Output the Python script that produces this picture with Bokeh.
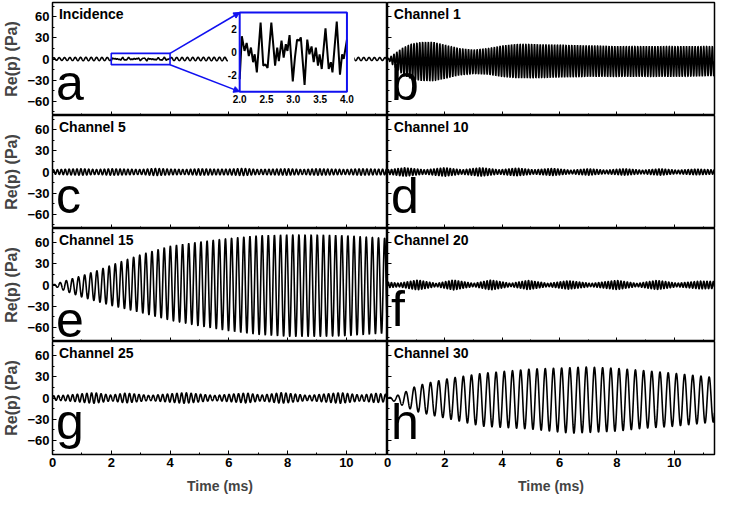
import numpy as np
from bokeh.plotting import figure
from bokeh.layouts import gridplot
from bokeh.models import Range1d, FixedTicker, Label, Arrow, NormalHead
from bokeh.core.properties import value
from bokeh.embed import file_html
from bokeh.resources import INLINE

# ---------------- data ----------------
t_end = 11.4
x_ticks = [0, 2, 4, 6, 8, 10]
x_minor = [1, 3, 5, 7, 9, 11]
y_ticks = [-60, -30, 0, 30, 60]
y_minor = [-75, -45, -15, 15, 45, 75]

panel_titles = ["Incidence", "Channel 1", "Channel 5", "Channel 10",
                "Channel 15", "Channel 20", "Channel 25", "Channel 30"]
panel_letters = ["a", "b", "c", "d", "e", "f", "g", "h"]

# Incidence: extremes (2-4 ms)
inc_t = [2.00, 2.04, 2.09, 2.13, 2.17, 2.21, 2.25, 2.28, 2.32, 2.39, 2.44, 2.48, 2.52,
         2.59, 2.66, 2.70, 2.73, 2.78, 2.82, 2.86, 2.89, 2.93, 2.99, 3.03, 3.07, 3.11,
         3.14, 3.21, 3.26, 3.30, 3.34, 3.38, 3.42, 3.46, 3.49, 3.53, 3.60, 3.66, 3.70,
         3.73, 3.81, 3.87, 3.91, 3.94, 4.00]
inc_p = [-2.4, 1.4, 0.1, 0.8, -0.35, 0.4, -0.9, -0.2, -1.8, 2.6, -1.2, -1.1, -1.4,
         2.6, -1.2, 0.4, -0.8, 1.0, -0.5, 0.7, 0.1, 1.5, -2.6, -0.5, 1.1, 1.0,
         1.3, -2.9, 1.1, -0.2, 0.5, -0.9, 0.4, -1.2, -0.2, -1.5, 2.1, -1.5, -0.9,
         -1.8, 2.7, -2.0, -0.2, -0.6, 1.1]
inc_freq = 5.5
inc_env_t = [0, 1, 2, 4, 6, 8, 10, 11.4]
inc_amp = [1.8, 2.4, 2.2, 2.2, 2.5, 2.0, 2.4, 2.0]
inset_t_span = [2.0, 4.0]
inset_p_span = [-3.5, 3.5]
inset_xticks = [2.0, 2.5, 3.0, 3.5, 4.0]
inset_yticks = [-2, 0, 2]

# Channel 1 (b)
ch1_freq = 10.0
ch1_env_t = [0, 0.2, 0.5, 0.8, 1.2, 1.6, 2.0, 2.5, 3.0, 3.5, 4.0, 4.5, 5.0, 6.0, 7.0, 8.0, 9.0, 10.0, 11.4]
ch1_upper = [0, 6, 15, 21, 24, 24, 20, 15, 13, 15, 19, 21, 21, 20, 19, 18, 18, 18, 18]
ch1_lower = [0, -9, -21, -28, -31, -31, -28, -23, -21, -22, -25, -27, -27, -26, -25, -25, -25, -25, -24]

# Channel 5 (c)
ch5_freq = 7.5
ch5_env_t = [0, 0.5, 1.0, 1.5, 2.0, 2.5, 3.0, 3.5, 4.0, 4.5, 5.0, 5.5, 6.0, 6.5, 7.0, 7.5,
             8.0, 8.5, 9.0, 9.5, 10.0, 10.5, 11.0, 11.4]
ch5_amp = [3, 4, 4.5, 3.5, 4.5, 4, 3.5, 5, 4, 3.5, 4.5, 4, 4, 5, 3.5, 4, 4.5, 3.5, 4.5, 4, 3.5, 4.5, 4, 4]

# Channel 10 (d)
ch10_freq = 8.8
ch10_env_t = [0, 0.6, 1.3, 2.0, 2.6, 3.25, 3.9, 4.5, 5.1, 5.75, 6.4, 7.0, 7.6, 8.25, 8.9, 9.5, 10.1, 10.75, 11.4]
ch10_amp = [3, 6, 3, 6, 3, 6, 3, 5.5, 3, 5, 2.5, 4.5, 2.5, 4.5, 2.5, 4.5, 2.5, 4, 3]

# Channel 15 (e)
ch15_freq = 4.8
ch15_env_t = [0, 0.3, 0.6, 1.0, 1.5, 2.0, 3.0, 4.0, 5.0, 6.0, 7.0, 8.0, 9.0, 10.0, 11.4]
ch15_upper = [0, 4, 8, 13, 20, 28, 43, 55, 61, 66, 70, 71, 71, 70, 66]
ch15_lower = [0, -6, -11, -17, -23, -29, -39, -50, -58, -65, -70, -73, -73, -72, -68]

# Channel 20 (f)
ch20_freq = 9.0
ch20_env_t = [0, 0.4, 1.05, 1.7, 2.3, 3.0, 3.6, 4.3, 4.9, 5.6, 6.3, 7.1, 8.0, 8.7, 9.4, 10.1, 10.9, 11.4]
ch20_amp = [4, 2.5, 7, 2.2, 7, 2.2, 7, 2.2, 6.5, 2.2, 6, 2.2, 6.5, 2.2, 6.5, 2.5, 5.5, 5]

# Channel 25 (g)
ch25_freq = 6.2
ch25_env_t = [0, 0.5, 1.4, 2.0, 2.5, 3.3, 4.5, 5.5, 6.6, 7.1, 7.8, 8.7, 9.8, 10.5, 11.0, 11.4]
ch25_amp = [3, 4, 7.5, 4, 7, 3.5, 7.5, 3.5, 7, 4, 7.5, 3.5, 7.5, 4, 6.5, 5]

# Channel 30 (h)
ch30_freq = 3.5
ch30_env_t = [0, 0.3, 0.6, 1.0, 1.5, 2.2, 3.3, 5.0, 6.4, 6.9, 8.0, 8.9, 10.0, 11.4]
ch30_upper = [0, 3, 8, 17, 22, 28, 35, 41, 43, 44, 42, 39, 35, 29]
ch30_lower = [0, -6, -12, -19, -24, -30, -40, -44, -50, -49, -47, -43, -40, -34]

# ---------------- build ----------------
FONT = "Liberation Sans"
BLUE = "#1010f0"


def wave(env_t, upper, lower, freq, n=4000):
    t = np.linspace(0, t_end, n)
    up = np.interp(t, env_t, upper)
    lo = np.interp(t, env_t, lower)
    return t, (up + lo) / 2 + (up - lo) / 2 * np.sin(2 * np.pi * freq * t)


def neg(a):
    return [-v for v in a]


t_i, y_i = wave(inc_env_t, inc_amp, neg(inc_amp), inc_freq)
m1 = t_i < inc_t[0]
m2 = t_i > inc_t[-1]
inc_main_t = np.concatenate([t_i[m1], inc_t, t_i[m2]])
inc_main_p = np.concatenate([y_i[m1], inc_p, y_i[m2]])

series = [
    (inc_main_t, inc_main_p),
    wave(ch1_env_t, ch1_upper, ch1_lower, ch1_freq),
    wave(ch5_env_t, ch5_amp, neg(ch5_amp), ch5_freq),
    wave(ch10_env_t, ch10_amp, neg(ch10_amp), ch10_freq),
    wave(ch15_env_t, ch15_upper, ch15_lower, ch15_freq),
    wave(ch20_env_t, ch20_amp, neg(ch20_amp), ch20_freq),
    wave(ch25_env_t, ch25_amp, neg(ch25_amp), ch25_freq),
    wave(ch30_env_t, ch30_upper, ch30_lower, ch30_freq),
]


def style_axis(ax, ticks, show_labels):
    ax.major_tick_in = 4
    ax.major_tick_out = 0
    ax.minor_tick_in = 2
    ax.minor_tick_out = 0
    ax.axis_line_color = None
    ax.major_tick_line_color = "black"
    ax.minor_tick_line_color = "black"
    ax.major_label_text_font = FONT
    ax.major_label_text_font_style = "bold"
    ax.major_label_text_color = "black"
    if show_labels:
        ax.major_label_text_font_size = "13px"
        ax.major_label_standoff = 3
    else:
        ax.major_label_overrides = {v: "" for v in ticks}
        ax.major_label_text_font_size = "1px"
        ax.major_label_standoff = 0


figs = []
for i in range(8):
    row, col = divmod(i, 2)
    left = col == 0
    kw = {}
    if not left:
        kw["styles"] = {"margin-left": "-8px"}
    p = figure(frame_width=335, frame_height=113,
               x_range=Range1d(0, t_end), y_range=Range1d(-80, 80),
               output_backend="svg", toolbar_location=None, tools="",
               min_border_left=46 if left else 8,
               min_border_right=0 if left else 2,
               min_border_top=2 if row == 0 else 0,
               min_border_bottom=0,
               background_fill_color="white",
               border_fill_color="white" if left else None,
               outline_line_color="black", outline_line_width=1.5, **kw)
    p.grid.visible = False
    p.xaxis.ticker = FixedTicker(ticks=x_ticks, minor_ticks=x_minor)
    p.yaxis.ticker = FixedTicker(ticks=y_ticks, minor_ticks=y_minor)
    style_axis(p.xaxis[0], x_ticks, row == 3)
    style_axis(p.yaxis[0], y_ticks, left)
    if left:
        p.yaxis.axis_label = "Re(p) (Pa)"
        p.yaxis.axis_label_text_font = FONT
        p.yaxis.axis_label_text_font_style = "bold"
        p.yaxis.axis_label_text_font_size = "16px"
        p.yaxis.axis_label_standoff = 4
    if row == 3:
        p.xaxis.axis_label = "Time (ms)"
        p.xaxis.axis_label_text_font = FONT
        p.xaxis.axis_label_text_font_style = "bold"
        p.xaxis.axis_label_text_font_size = "14px"
        p.xaxis.axis_label_standoff = 8

    t, y = series[i]
    p.line(t, y, line_color="black", line_width=1.6)

    p.add_layout(Label(x=0.22, y=75, text=panel_titles[i], text_baseline="top",
                       text_font=FONT, text_font_style="bold", text_font_size="14px",
                       text_color="black"))
    p.add_layout(Label(x=0.12, y=-74, text=panel_letters[i], text_baseline="bottom",
                       text_font=FONT, text_font_size="50px", text_color="black",
                       text_line_height=1.0))
    figs.append(p)

# ---------------- inset in panel a ----------------
pa = figs[0]
box_l, box_r, box_b, box_t = 6.37, 10.02, -46.2, 65.9   # inset frame, in panel coordinates
sx = (box_r - box_l) / (inset_t_span[1] - inset_t_span[0])
sy = (box_t - box_b) / (inset_p_span[1] - inset_p_span[0])
pa.extra_x_ranges = {"ins": Range1d(inset_t_span[0] - box_l / sx,
                                    inset_t_span[1] + (t_end - box_r) / sx)}
pa.extra_y_ranges = {"ins": Range1d(inset_p_span[0] - (box_b + 80) / sy,
                                    inset_p_span[1] + (80 - box_t) / sy)}

# small zoom box
pa.quad(left=[inset_t_span[0]], right=[inset_t_span[1]], bottom=[-8], top=[8],
        fill_color=None, line_color=BLUE, line_width=1.6)
# white background of the inset
pa.quad(left=[box_l - 0.4], right=[box_r + 0.25], bottom=[box_b - 17], top=[min(79, box_t + 9)],
        fill_color="white", line_color=None)
pa.line(inc_t, inc_p, x_range_name="ins", y_range_name="ins",
        line_color="black", line_width=2)
pa.quad(left=[inset_t_span[0]], right=[inset_t_span[1]],
        bottom=[inset_p_span[0]], top=[inset_p_span[1]],
        x_range_name="ins", y_range_name="ins",
        fill_color=None, line_color=BLUE, line_width=2)
pa.text(x=inset_xticks, y=[inset_p_span[0]] * len(inset_xticks),
        text=[f"{v:.1f}" for v in inset_xticks],
        x_range_name="ins", y_range_name="ins",
        text_align="center", text_baseline="top", y_offset=3,
        text_font=value(FONT), text_font_style="bold", text_font_size="10px",
        text_color="black")
pa.text(x=[inset_t_span[0]] * len(inset_yticks), y=inset_yticks,
        text=[str(v) for v in inset_yticks],
        x_range_name="ins", y_range_name="ins",
        text_align="right", text_baseline="middle", x_offset=-3,
        text_font=value(FONT), text_font_style="bold", text_font_size="10px",
        text_color="black")
for ys, ye in ((8, box_t), (-8, box_b)):
    pa.add_layout(Arrow(x_start=inset_t_span[1], y_start=ys, x_end=box_l, y_end=ye,
                        line_color=BLUE, line_width=1.6,
                        end=NormalHead(size=6, fill_color=BLUE, line_color=BLUE, line_width=1)))

grid = gridplot([[figs[0], figs[1]], [figs[2], figs[3]],
                 [figs[4], figs[5]], [figs[6], figs[7]]],
                toolbar_location=None)

open("out.html", "w").write(file_html(grid, INLINE, title="Channel pressures"))
